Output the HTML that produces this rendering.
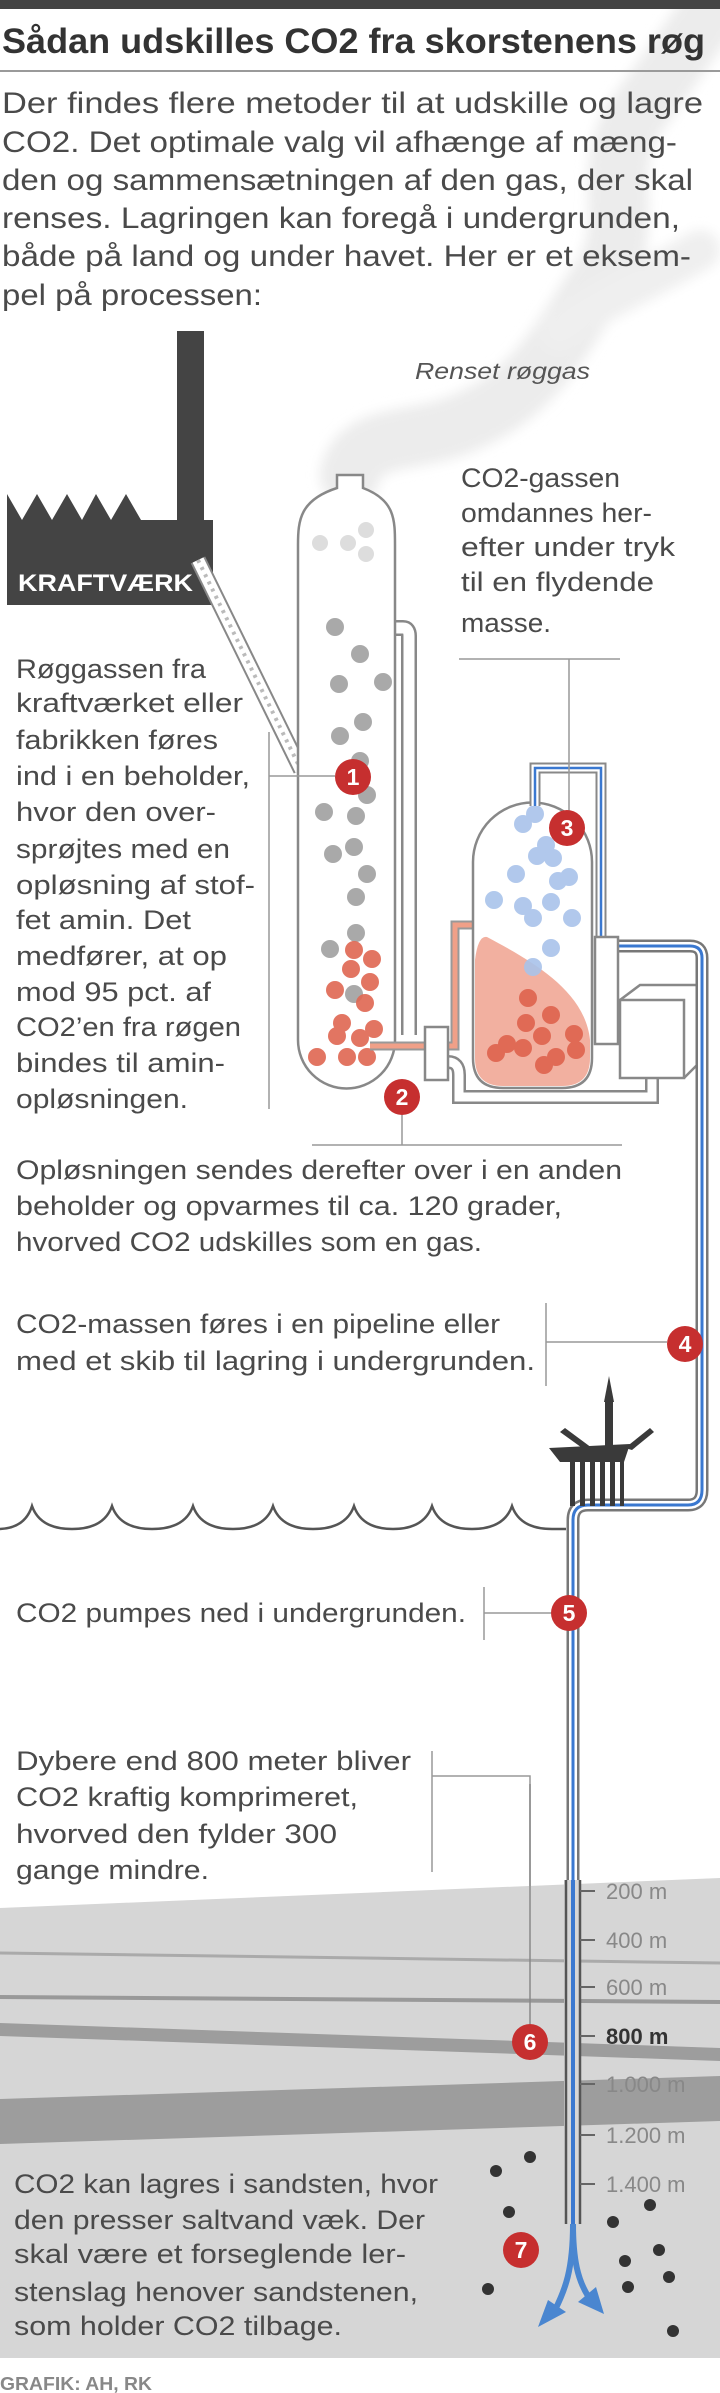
<!DOCTYPE html>
<html><head><meta charset="utf-8"><style>html,body{margin:0;padding:0;background:#fff}svg{display:block}</style></head>
<body>
<svg width="720" height="2393" viewBox="0 0 720 2393" xmlns="http://www.w3.org/2000/svg" font-family="'Liberation Sans', sans-serif">
<defs><filter id="bl" x="-20%" y="-20%" width="140%" height="140%"><feGaussianBlur stdDeviation="6"/></filter></defs>
<!-- smoke -->
<g filter="url(#bl)">
<path d="M350,475 C360,430 420,445 470,420 C540,390 565,330 600,280 C640,225 595,170 640,110 C670,70 690,40 725,-10" stroke="#ececec" stroke-width="60" fill="none" stroke-linecap="round"/>
<path d="M560,330 C600,300 650,280 700,250" stroke="#efefef" stroke-width="40" fill="none" stroke-linecap="round"/>
</g>
<!-- header -->
<rect x="0" y="0" width="720" height="9" fill="#444"/>
<text x="2" y="53" font-size="35" font-weight="bold" fill="#333" textLength="703" lengthAdjust="spacingAndGlyphs">Sådan udskilles CO2 fra skorstenens røg</text>
<rect x="0" y="70" width="720" height="2" fill="#9a9a9a"/>
<g font-size="30" fill="#4a4a4a">
<text x="2" y="113" textLength="701" lengthAdjust="spacingAndGlyphs">Der findes flere metoder til at udskille og lagre</text>
<text x="2" y="152" textLength="675" lengthAdjust="spacingAndGlyphs">CO2. Det optimale valg vil afhænge af mæng-</text>
<text x="2" y="190" textLength="691" lengthAdjust="spacingAndGlyphs">den og sammensætningen af den gas, der skal</text>
<text x="2" y="228" textLength="678" lengthAdjust="spacingAndGlyphs">renses. Lagringen kan foregå i undergrunden,</text>
<text x="2" y="266" textLength="689" lengthAdjust="spacingAndGlyphs">både på land og under havet. Her er et eksem-</text>
<text x="2" y="305" textLength="260" lengthAdjust="spacingAndGlyphs">pel på processen:</text>
</g>
<text x="415" y="379" font-size="23" font-style="italic" fill="#555" textLength="175" lengthAdjust="spacingAndGlyphs">Renset røggas</text>
<!-- factory -->
<polygon points="7,605 7,494 22,520 37,494 52,520 67,494 82,520 96,494 111,520 126,494 141,520 177,520 177,331 204,331 204,520 213,520 213,605" fill="#444"/>
<text x="18" y="591" font-size="24" font-weight="bold" fill="#fff" textLength="175" lengthAdjust="spacingAndGlyphs">KRAFTVÆRK</text>
<!-- diagonal feed pipe -->
<path d="M198,560 L301,770" stroke="#888" stroke-width="16" fill="none"/>
<path d="M198,560 L301,770" stroke="#fff" stroke-width="12" fill="none"/>
<path d="M198,560 L301,770" stroke="#bbb" stroke-width="4" stroke-dasharray="3,5" fill="none"/>
<!-- right-side text -->
<g font-size="27" fill="#4a4a4a">
<text x="461" y="487" textLength="159" lengthAdjust="spacingAndGlyphs">CO2-gassen</text>
<text x="461" y="522" textLength="191" lengthAdjust="spacingAndGlyphs">omdannes her-</text>
<text x="461" y="556" textLength="214" lengthAdjust="spacingAndGlyphs">efter under tryk</text>
<text x="461" y="591" textLength="193" lengthAdjust="spacingAndGlyphs">til en flydende</text>
<text x="461" y="632" textLength="90" lengthAdjust="spacingAndGlyphs">masse.</text>
</g>
<!-- gray pipe column->connector -->
<path d="M395,628 H403 Q409,628 409,636 V1035" stroke="#888" stroke-width="16" fill="none"/>
<path d="M395,628 H403 Q409,628 409,636 V1035" stroke="#fff" stroke-width="11" fill="none"/>
<!-- bottom loop -->
<path d="M448,1062 Q459,1062 459,1075 V1097 H652 V1070" stroke="#888" stroke-width="14" fill="none"/>
<path d="M448,1062 Q459,1062 459,1075 V1097 H652 V1070" stroke="#fff" stroke-width="9" fill="none"/>
<!-- column 1 -->
<path d="M337,475 H363 V488 C395,500 395,520 395,545 V1040 A48.5,48.5 0 0 1 298,1040 V545 C298,520 300,500 337,488 Z" fill="#fff" stroke="#888" stroke-width="2.5"/>
<g fill="#ddd"><circle cx="366" cy="530" r="8"/><circle cx="320" cy="543" r="8"/><circle cx="348" cy="543" r="8"/><circle cx="366" cy="554" r="8"/></g>
<g fill="#a9a9a9">
<circle cx="335" cy="627" r="9"/><circle cx="360" cy="654" r="9"/><circle cx="339" cy="684" r="9"/><circle cx="383" cy="682" r="9"/><circle cx="363" cy="722" r="9"/><circle cx="340" cy="736" r="9"/><circle cx="360" cy="761" r="9"/><circle cx="367" cy="795" r="9"/><circle cx="324" cy="812" r="9"/><circle cx="356" cy="816" r="9"/><circle cx="354" cy="847" r="9"/><circle cx="333" cy="854" r="9"/><circle cx="367" cy="874" r="9"/><circle cx="356" cy="897" r="9"/><circle cx="356" cy="933" r="9"/><circle cx="330" cy="949" r="9"/><circle cx="354" cy="994" r="9"/>
</g>
<g fill="#e06a55" opacity="0.92">
<circle cx="354" cy="950" r="9"/><circle cx="372" cy="959" r="9"/><circle cx="351" cy="969" r="9"/><circle cx="370" cy="982" r="9"/><circle cx="335" cy="990" r="9"/><circle cx="365" cy="1003" r="9"/><circle cx="342" cy="1023" r="9"/><circle cx="374" cy="1029" r="9"/><circle cx="337" cy="1036" r="9"/><circle cx="360" cy="1038" r="9"/><circle cx="317" cy="1057" r="9"/><circle cx="347" cy="1057" r="9"/><circle cx="367" cy="1057" r="9"/>
</g>
<!-- orange pipe -->
<path d="M370,1046 H455 V925 H477" stroke="#999" stroke-width="9" fill="none"/>
<path d="M370,1046 H455 V925 H477" stroke="#f0a088" stroke-width="5" fill="none"/>
<!-- connector box -->
<rect x="425" y="1027" width="23" height="53" fill="#fff" stroke="#888" stroke-width="2.5"/>
<!-- right box -->
<rect x="620" y="1000" width="64" height="78" fill="#fff" stroke="#888" stroke-width="2.5"/>
<path d="M620,1000 L640,985 H700 V1062 L684,1078" fill="none" stroke="#888" stroke-width="2.5"/>
<!-- vessel 2 -->
<path d="M473,862 A59.5,59.5 0 0 1 592,862 V1058 Q592,1088 562,1088 H503 Q473,1088 473,1058 Z" fill="#fff" stroke="#888" stroke-width="2.5"/>
<path d="M487,937 C530,960 585,990 590,1040 V1058 Q590,1086 562,1086 H503 Q475,1086 475,1058 V960 Q478,935 487,937 Z" fill="#f2b0a0"/>
<g fill="#e06a55">
<circle cx="528" cy="998" r="9"/><circle cx="551" cy="1015" r="9"/><circle cx="526" cy="1023" r="9"/><circle cx="574" cy="1034" r="9"/><circle cx="542" cy="1036" r="9"/><circle cx="507" cy="1044" r="9"/><circle cx="496" cy="1053" r="9"/><circle cx="523" cy="1048" r="9"/><circle cx="556" cy="1057" r="9"/><circle cx="576" cy="1050" r="9"/><circle cx="544" cy="1065" r="9"/>
</g>
<g fill="#a9c3ea" opacity="0.9">
<circle cx="535" cy="814" r="9"/><circle cx="523" cy="824" r="9"/><circle cx="546" cy="845" r="9"/><circle cx="537" cy="856" r="9"/><circle cx="553" cy="858" r="9"/><circle cx="516" cy="874" r="9"/><circle cx="558" cy="881" r="9"/><circle cx="569" cy="877" r="9"/><circle cx="494" cy="900" r="9"/><circle cx="523" cy="906" r="9"/><circle cx="551" cy="902" r="9"/><circle cx="533" cy="918" r="9"/><circle cx="572" cy="918" r="9"/><circle cx="551" cy="948" r="9"/><circle cx="533" cy="967" r="9"/>
</g>
<!-- blue pipes -->
<g fill="none">
<path d="M535,806 V768 H601 V940" stroke="#888" stroke-width="11"/>
<path d="M535,806 V768 H601 V940" stroke="#fff" stroke-width="7"/>
<path d="M535,806 V768 H601 V940" stroke="#3a78d0" stroke-width="2.5"/>
<path d="M618,946 H690 Q702,946 702,958 V1490 Q702,1505 688,1505 H588 Q573,1505 573,1520 V2224" stroke="#777" stroke-width="13"/>
<path d="M618,946 H690 Q702,946 702,958 V1490 Q702,1505 688,1505 H588 Q573,1505 573,1520 V2224" stroke="#fff" stroke-width="8"/>
<path d="M618,946 H690 Q702,946 702,958 V1490 Q702,1505 688,1505 H588 Q573,1505 573,1520 V2224" stroke="#3a78d0" stroke-width="3"/>
</g>
<rect x="595" y="937" width="23" height="107" fill="#fff" stroke="#888" stroke-width="2.5"/>
<!-- left text -->
<g font-size="27" fill="#4a4a4a">
<text x="16" y="678" textLength="190" lengthAdjust="spacingAndGlyphs">Røggassen fra</text>
<text x="16" y="712" textLength="227" lengthAdjust="spacingAndGlyphs">kraftværket eller</text>
<text x="16" y="749" textLength="202" lengthAdjust="spacingAndGlyphs">fabrikken føres</text>
<text x="16" y="785" textLength="234" lengthAdjust="spacingAndGlyphs">ind i en beholder,</text>
<text x="16" y="821" textLength="200" lengthAdjust="spacingAndGlyphs">hvor den over-</text>
<text x="16" y="858" textLength="214" lengthAdjust="spacingAndGlyphs">sprøjtes med en</text>
<text x="16" y="894" textLength="239" lengthAdjust="spacingAndGlyphs">opløsning af stof-</text>
<text x="16" y="929" textLength="175" lengthAdjust="spacingAndGlyphs">fet amin. Det</text>
<text x="16" y="965" textLength="211" lengthAdjust="spacingAndGlyphs">medfører, at op</text>
<text x="16" y="1001" textLength="195" lengthAdjust="spacingAndGlyphs">mod 95 pct. af</text>
<text x="16" y="1036" textLength="225" lengthAdjust="spacingAndGlyphs">CO2’en fra røgen</text>
<text x="16" y="1072" textLength="209" lengthAdjust="spacingAndGlyphs">bindes til amin-</text>
<text x="16" y="1108" textLength="172" lengthAdjust="spacingAndGlyphs">opløsningen.</text>
<text x="16" y="1179" textLength="606" lengthAdjust="spacingAndGlyphs">Opløsningen sendes derefter over i en anden</text>
<text x="16" y="1215" textLength="546" lengthAdjust="spacingAndGlyphs">beholder og opvarmes til ca. 120 grader,</text>
<text x="16" y="1251" textLength="466" lengthAdjust="spacingAndGlyphs">hvorved CO2 udskilles som en gas.</text>
<text x="16" y="1333" textLength="484" lengthAdjust="spacingAndGlyphs">CO2-massen føres i en pipeline eller</text>
<text x="16" y="1370" textLength="519" lengthAdjust="spacingAndGlyphs">med et skib til lagring i undergrunden.</text>
<text x="16" y="1622" textLength="450" lengthAdjust="spacingAndGlyphs">CO2 pumpes ned i undergrunden.</text>
<text x="16" y="1770" textLength="395" lengthAdjust="spacingAndGlyphs">Dybere end 800 meter bliver</text>
<text x="16" y="1806" textLength="342" lengthAdjust="spacingAndGlyphs">CO2 kraftig komprimeret,</text>
<text x="16" y="1843" textLength="321" lengthAdjust="spacingAndGlyphs">hvorved den fylder 300</text>
<text x="16" y="1879" textLength="193" lengthAdjust="spacingAndGlyphs">gange mindre.</text>
</g>
<!-- bracket lines -->
<g stroke="#999" stroke-width="1.5" fill="none">
<path d="M459,659 H620 M569,659 V812"/>
<path d="M269,732 V1109 M269,776 H335"/>
<path d="M402,1115 V1145 M312,1145 H622"/>
<path d="M546,1303 V1386 M546,1342 H667"/>
<path d="M484,1587 V1640 M484,1613 H551"/>
<path d="M432,1751 V1872 M432,1776 H530 V2024"/>
<path d="M455,2161 V2345 M455,2250 H503"/>
</g>
<!-- platform -->
<g fill="#3a3a3a">
<polygon points="549,1448 630,1444 624,1462 560,1462"/>
<rect x="605" y="1400" width="8" height="46"/>
<polygon points="609,1376 604,1402 614,1402"/>
<polygon points="565,1428 592,1448 585,1450 560,1432"/>
<polygon points="650,1428 625,1448 632,1450 654,1432"/>
<rect x="570" y="1462" width="5" height="44"/><rect x="580" y="1462" width="5" height="44"/><rect x="590" y="1462" width="5" height="44"/><rect x="600" y="1462" width="5" height="44"/><rect x="610" y="1462" width="5" height="44"/><rect x="620" y="1462" width="4" height="44"/>
</g>
<!-- waves -->
<path d="M0,1529 Q25,1528 32,1506 Q40,1529 72,1529 Q104,1529 112,1506 Q120,1529 152,1529 Q185,1529 193,1506 Q201,1529 233,1529 Q265,1529 273,1506 Q281,1529 313,1529 Q346,1529 354,1506 Q362,1529 393,1529 Q424,1529 432,1506 Q440,1529 472,1529 Q504,1529 512,1506 Q520,1529 552,1529 H566" stroke="#555" stroke-width="2.5" fill="none"/>
<!-- ground -->
<polygon points="0,1908 720,1878 720,2358 0,2358" fill="#d6d6d6"/>
<path d="M0,1953 L720,1963" stroke="#aaa" stroke-width="3"/>
<path d="M0,1997 L720,2002" stroke="#999" stroke-width="4"/>
<polygon points="0,2023 720,2048 720,2061 0,2036" fill="#9d9d9d"/>
<polygon points="0,2099 720,2076 720,2121 0,2144" fill="#9d9d9d"/>
<!-- underground pipe -->
<rect x="564" y="1880" width="17" height="344" fill="#d6d6d6"/>
<path d="M566,1880 V2224 M580,1880 V2224" stroke="#555" stroke-width="2.5"/>
<path d="M573,1880 V2224" stroke="#3a78d0" stroke-width="4"/>
<path d="M530,1784 V2024" stroke="#888" stroke-width="1.5"/>
<g stroke="#666" stroke-width="2"><path d="M580,1891 H595 M580,1940 H595 M580,1987 H595 M580,2036 H595 M580,2084 H595 M580,2135 H595 M580,2184 H595"/></g>
<g font-size="22" fill="#888">
<text x="606" y="1899">200 m</text>
<text x="606" y="1948">400 m</text>
<text x="606" y="1995">600 m</text>
<text x="606" y="2044" font-weight="bold" fill="#333">800 m</text>
<text x="606" y="2092">1.000 m</text>
<text x="606" y="2143">1.200 m</text>
<text x="606" y="2192">1.400 m</text>
</g>
<!-- arrows -->
<path d="M573,2224 C573,2270 565,2290 555,2310" stroke="#4a86d0" stroke-width="6" fill="none"/>
<polygon points="538,2327 548,2300 566,2312" fill="#4a86d0"/>
<path d="M573,2224 C573,2260 578,2280 588,2296" stroke="#4a86d0" stroke-width="6" fill="none"/>
<polygon points="604,2314 578,2302 596,2287" fill="#4a86d0"/>
<g fill="#333">
<circle cx="530" cy="2157" r="6"/><circle cx="496" cy="2171" r="6"/><circle cx="509" cy="2212" r="6"/><circle cx="650" cy="2205" r="6"/><circle cx="613" cy="2222" r="6"/><circle cx="659" cy="2250" r="6"/><circle cx="625" cy="2261" r="6"/><circle cx="669" cy="2277" r="6"/><circle cx="628" cy="2287" r="6"/><circle cx="488" cy="2289" r="6"/><circle cx="673" cy="2331" r="6"/>
</g>
<g font-size="27" fill="#4a4a4a">
<text x="14" y="2193" textLength="424" lengthAdjust="spacingAndGlyphs">CO2 kan lagres i sandsten, hvor</text>
<text x="14" y="2229" textLength="411" lengthAdjust="spacingAndGlyphs">den presser saltvand væk. Der</text>
<text x="14" y="2263" textLength="392" lengthAdjust="spacingAndGlyphs">skal være et forseglende ler-</text>
<text x="14" y="2301" textLength="404" lengthAdjust="spacingAndGlyphs">stenslag henover sandstenen,</text>
<text x="14" y="2335" textLength="328" lengthAdjust="spacingAndGlyphs">som holder CO2 tilbage.</text>
</g>
<text x="0" y="2390" font-size="18" font-weight="bold" fill="#888" textLength="152" lengthAdjust="spacingAndGlyphs">GRAFIK: AH, RK</text>
<!-- number circles -->
<g font-size="23" font-weight="bold" fill="#fff" text-anchor="middle">
<circle cx="353" cy="777" r="18" fill="#c62f2f"/><text x="353" y="785">1</text>
<circle cx="402" cy="1097" r="18" fill="#c62f2f"/><text x="402" y="1105">2</text>
<circle cx="567" cy="828" r="18" fill="#c62f2f"/><text x="567" y="836">3</text>
<circle cx="685" cy="1344" r="18" fill="#c62f2f"/><text x="685" y="1352">4</text>
<circle cx="569" cy="1613" r="18" fill="#c62f2f"/><text x="569" y="1621">5</text>
<circle cx="530" cy="2042" r="18" fill="#c62f2f"/><text x="530" y="2050">6</text>
<circle cx="521" cy="2250" r="18" fill="#c62f2f"/><text x="521" y="2258">7</text>
</g>
</svg>
</body></html>
